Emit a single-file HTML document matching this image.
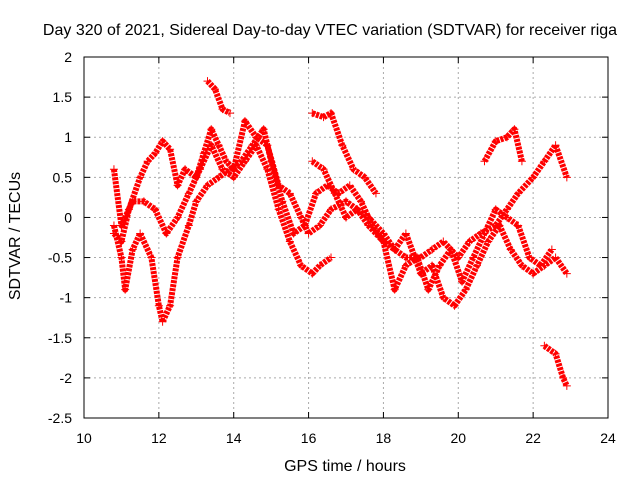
<!DOCTYPE html>
<html><head><meta charset="utf-8"><style>
body{margin:0;background:#fff}
text{font-family:"Liberation Sans",sans-serif;font-size:14px;fill:#000}
.big{font-size:16px}
</style></head><body>
<svg id="chart" width="640" height="480">
<rect width="640" height="480" fill="#fff"/>
<text class="big" x="330" y="35" text-anchor="middle">Day 320 of 2021, Sidereal Day-to-day VTEC variation (SDTVAR) for receiver riga</text>
<text class="big" x="345" y="471" text-anchor="middle">GPS time / hours</text>
<text class="big" transform="translate(20,236) rotate(-90)" text-anchor="middle">SDTVAR / TECUs</text>
<g id="grid"></g><g id="ticks"></g><g id="series"></g>
<rect x="84" y="57" width="524" height="361" fill="none" stroke="#000"/>
</svg>
<script>
const xTicks=[10,12,14,16,18,20,22,24];
const yTicks=[2,1.5,1,0.5,0,-0.5,-1,-1.5,-2,-2.5];
const traceAx=[10.8,11.0,11.2,11.5,11.7,11.9,12.1,12.3,12.5,12.7,13.0,13.2,13.4,13.6,13.8,14.0,14.3,14.6,14.9,15.2,15.5,15.8,16.0,16.3,16.6,17.0,17.3,17.6,18.0,18.3,18.6,19.0,19.3,19.6,20.0,20.3,20.6,21.0,21.3,21.6,22.0,22.3,22.6,22.9];
const traceAy=[-0.2,-0.3,0.1,0.5,0.7,0.8,0.95,0.85,0.4,0.6,0.5,0.8,1.1,0.9,0.7,0.6,1.2,1.0,0.9,0.4,0.3,0.0,-0.2,-0.1,0.1,0.2,0.1,0.0,-0.2,-0.4,-0.5,-0.5,-0.4,-0.3,-0.5,-0.3,-0.2,-0.1,0.1,0.3,0.5,0.7,0.9,0.5];
const traceBx=[10.8,11.0,11.3,11.6,11.9,12.2,12.5,12.8,13.1,13.4,13.7,14.0,14.3,14.6,14.9,15.2,15.5,15.8,16.1,16.3,16.6];
const traceBy=[0.6,-0.1,0.2,0.2,0.1,-0.2,0.0,0.3,0.6,0.9,0.6,0.5,0.7,0.9,0.6,0.1,-0.3,-0.6,-0.7,-0.6,-0.5];
const traceEx=[16.1,16.4,16.7,17.0,17.3,17.6,18.0,18.3,18.6,19.0,19.3,19.6,19.9,20.2,20.5,20.8,21.1,21.4,21.7,22.0,22.3,22.6,22.9];
const traceEy=[0.7,0.6,0.3,0.0,0.1,-0.1,-0.3,-0.4,-0.2,-0.7,-0.6,-1.0,-1.1,-0.9,-0.6,-0.3,-0.1,-0.4,-0.6,-0.7,-0.6,-0.5,-0.7];
const traceCx=[10.8,11.0,11.1,11.3,11.5,11.8,12.0,12.1,12.3,12.5,12.8,13.0,13.3,13.6,13.9,14.2,14.5,14.8,15.0,15.3,15.6,15.9,16.2,16.5,16.8,17.1,17.4,17.7,18.0,18.3,18.6,18.9,19.2,19.5,19.8,20.1,20.4,20.7,21.0,21.3,21.6,21.9,22.2,22.5];
const traceCy=[-0.1,-0.5,-0.9,-0.4,-0.2,-0.5,-1.1,-1.3,-1.1,-0.5,-0.1,0.2,0.4,0.5,0.6,0.7,0.9,1.1,0.7,0.2,-0.2,-0.1,0.3,0.4,0.3,0.4,0.2,-0.1,-0.3,-0.9,-0.6,-0.5,-0.9,-0.6,-0.4,-0.8,-0.5,-0.2,0.1,0.0,-0.1,-0.5,-0.6,-0.4];
const traceD1x=[13.3,13.5,13.7,13.9];const traceD1y=[1.7,1.6,1.35,1.3];
const traceD2x=[16.1,16.4,16.6,16.9,17.2,17.5,17.8];const traceD2y=[1.3,1.25,1.3,0.9,0.6,0.5,0.3];
const traceD3x=[20.7,21.0,21.3,21.5,21.7];const traceD3y=[0.7,0.95,1.0,1.1,0.7];
const traceD4x=[22.3,22.6,22.8,22.9];const traceD4y=[-1.6,-1.7,-2.0,-2.1];
const X=v=>84+(v-10)*524/14, Y=v=>57+(2-v)*361/4.5;
const NS="http://www.w3.org/2000/svg";
const grid=document.getElementById('grid'),tk=document.getElementById('ticks'),sr=document.getElementById('series');
function mk(t,a,p){const e=document.createElementNS(NS,t);for(const k in a)e.setAttribute(k,a[k]);p.appendChild(e);return e;}
xTicks.forEach(v=>{const x=X(v);
 if(v>10&&v<24){const g=mk('line',{x1:x,x2:x,y1:57,y2:418,stroke:'#aaa','stroke-dasharray':'2,3'},grid);
 
 }
 mk('line',{x1:x,x2:x,y1:418,y2:412,stroke:'#000'},tk);mk('line',{x1:x,x2:x,y1:57,y2:63,stroke:'#000'},tk);
 const t=mk('text',{x:x,y:443,'text-anchor':'middle'},tk);t.textContent=v;
 
 });
yTicks.forEach(v=>{const y=Y(v);
 if(v<2&&v>-2.5){const g=mk('line',{x1:84,x2:608,y1:y,y2:y,stroke:'#aaa','stroke-dasharray':'2,3'},grid);
 
 }
 mk('line',{x1:84,x2:90,y1:y,y2:y,stroke:'#000'},tk);mk('line',{x1:608,x2:602,y1:y,y2:y,stroke:'#000'},tk);
 const t=mk('text',{x:72,y:y+5,'text-anchor':'end'},tk);t.textContent=v;
 
 });
[[traceAx,traceAy],[traceBx,traceBy],[traceEx,traceEy],[traceCx,traceCy],[traceD1x,traceD1y],[traceD2x,traceD2y],[traceD3x,traceD3y],[traceD4x,traceD4y]].forEach(([xs,ys],i)=>{
 const pts=xs.map((x,j)=>X(x)+','+Y(ys[j])).join(' ');
 const pl=mk('polyline',{points:pts,fill:'none',stroke:'#f00','stroke-width':6,'stroke-dasharray':'3,1','stroke-linejoin':'round'},sr);
 
 
 xs.forEach((x,j)=>{const px=X(x),py=Y(ys[j]);
  const m=mk('path',{d:`M${px-4},${py}h8M${px},${py-4}v8`,stroke:'#f00','stroke-width':1},sr);
  
  });
});
</script>
</body></html>
